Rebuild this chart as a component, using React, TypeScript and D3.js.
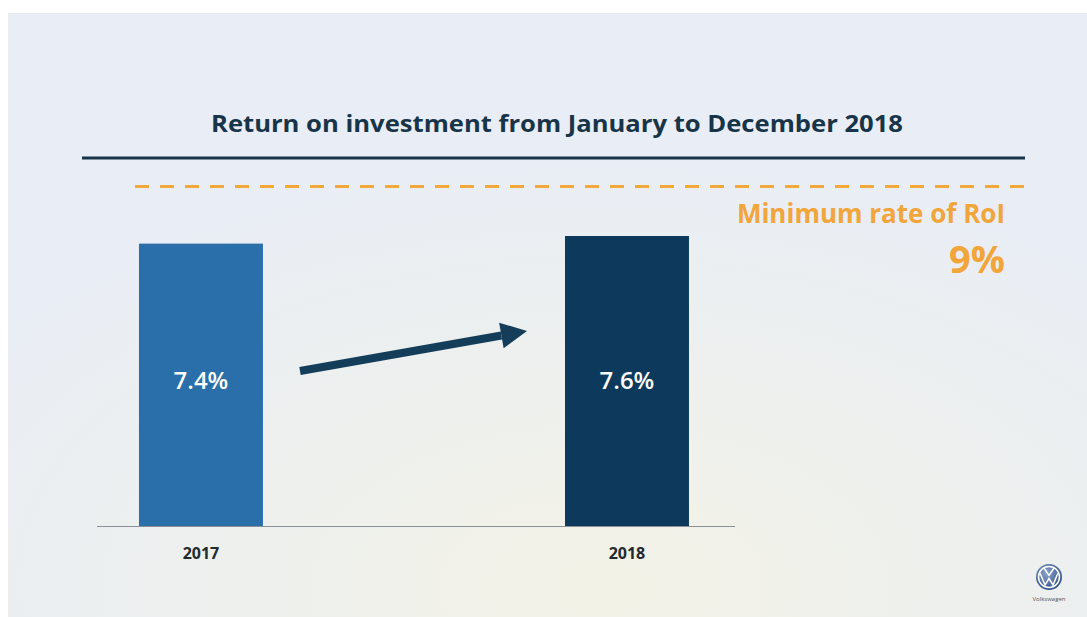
import React from "react";
import * as d3 from "d3";

const categories = ["2017", "2018"];
const values = [7.4, 7.6];
const valueLabels = ["7.4%", "7.6%"];
const minimumRate = 9;
const title = "Return on investment from January to December 2018";
const minLabel = "Minimum rate of RoI";
const minValueLabel = "9%";

const W = 1087;
const H = 617;

export default function App() {
  const x = d3.scaleBand<string>().domain(categories).range([97, 735]).paddingInner(0.709).paddingOuter(0.1033).align(0.477);
  const y = d3.scaleLinear().domain([0, 7.6]).range([526, 236]);
  const colors = ["#2a6fa9", "#0d3a5c"];

  // arrow geometry
  const ax0 = 300, ay0 = 371, ax1 = 527, ay1 = 331;
  const ang = Math.atan2(ay1 - ay0, ax1 - ax0);
  const headLen = 26, headW = 13;
  const bx = ax1 - headLen * Math.cos(ang), by = ay1 - headLen * Math.sin(ang);
  const px = -Math.sin(ang), py = Math.cos(ang);

  return (
    <svg width={W} height={H} style={{ position: "absolute", left: 0, top: 0 }}>
      <defs>
        <radialGradient id="bg" cx="0.55" cy="0.95" r="0.75">
          <stop offset="0" stopColor="#f3f2e6" />
          <stop offset="0.5" stopColor="#edf0ee" />
          <stop offset="1" stopColor="#e9edf6" />
        </radialGradient>
        <radialGradient id="logo" cx="0.4" cy="0.35" r="0.7">
          <stop offset="0" stopColor="#8aa3c8" />
          <stop offset="1" stopColor="#2d4f86" />
        </radialGradient>
      </defs>
      <rect x={0} y={0} width={W} height={H} fill="#ffffff" />
      <rect x={8} y={13} width={W - 8} height={H - 13} fill="url(#bg)" />

      <text x={557} y={132} textAnchor="middle" fontFamily="Open Sans, sans-serif" fontWeight={700} fontSize={23} fill="#173448" textLength={692} lengthAdjust="spacingAndGlyphs">
        {title}
      </text>
      <line x1={82} x2={1025} y1={158} y2={158} stroke="#173448" strokeWidth={3} />

      <line x1={135} x2={1035} y1={y(minimumRate) + 4} y2={y(minimumRate) + 4} stroke="#f2a83a" strokeWidth={3} strokeDasharray="14 11" />
      <text x={1005} y={223} textAnchor="end" fontFamily="Open Sans, sans-serif" fontWeight={700} fontSize={26} fill="#f2a53a">
        {minLabel}
      </text>
      <text x={1005} y={273} textAnchor="end" fontFamily="Open Sans, sans-serif" fontWeight={700} fontSize={38} fill="#f2a53a">
        {minValueLabel}
      </text>

      <line x1={97} x2={735} y1={y(0) + 0.5} y2={y(0) + 0.5} stroke="#8a9099" strokeWidth={1.2} />

      {categories.map((c, i) => (
        <g key={c}>
          <rect x={x(c)} y={y(values[i])} width={x.bandwidth()} height={y(0) - y(values[i])} fill={colors[i]} />
          <text x={(x(c) as number) + x.bandwidth() / 2} y={389} textAnchor="middle" fontFamily="Open Sans, sans-serif" fontWeight={600} fontSize={24} fill="#ffffff">
            {valueLabels[i]}
          </text>
          <text x={(x(c) as number) + x.bandwidth() / 2} y={559} textAnchor="middle" fontFamily="Open Sans, sans-serif" fontWeight={700} fontSize={16} fill="#222a30">
            {c}
          </text>
        </g>
      ))}

      <line x1={ax0} y1={ay0} x2={bx} y2={by} stroke="#143d5a" strokeWidth={8} />
      <path
        d={`M${ax1},${ay1} L${bx + px * headW},${by + py * headW} L${bx - px * headW},${by - py * headW} Z`}
        fill="#143d5a"
      />

      <g transform="translate(1049,577)">
        <circle r={13} fill="url(#logo)" />
        <circle r={10.5} fill="none" stroke="#ffffff" strokeWidth={1.5} />
        <path d="M-5,-9 L0,-1.5 L5,-9 M-9,-4 L-4,8 L0,1.5 L4,8 L9,-4" fill="none" stroke="#ffffff" strokeWidth={1.5} />
        <text y={24} textAnchor="middle" fontFamily="Open Sans, sans-serif" fontSize={6} fill="#555">Volkswagen</text>
      </g>
    </svg>
  );
}
